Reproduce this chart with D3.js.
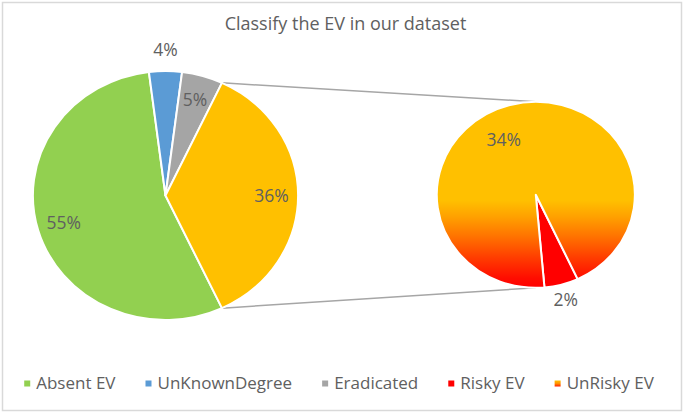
<!DOCTYPE html>
<html>
<head>
<meta charset="utf-8">
<script src="https://cdn.jsdelivr.net/npm/d3@7/dist/d3.min.js"></script>
<style>
  html, body { margin: 0; padding: 0; background: #fff; }
  svg { display: block; font-family: "Open Sans", Lato, sans-serif; }
</style>
</head>
<body>
<svg id="chart"></svg>
<script>
// chart values (percent of dataset)
var categories = ['Absent EV', 'UnKnownDegree', 'Eradicated', 'Risky EV', 'UnRisky EV'];
var values = [55, 4, 5, 2, 34];
// the last two categories are split out into the second pie
var splitNames = ['Risky EV', 'UnRisky EV'];
var otherName = 'Other';
var chartTitle = 'Classify the EV in our dataset';

var width = 686,
    height = 414;

var colors = {
  'Absent EV': '#92D050',
  'UnKnownDegree': '#5B9BD5',
  'Eradicated': '#A5A5A5',
  'Risky EV': '#FF0000',
  'UnRisky EV': 'url(#unriskyGrad)',
  'Other': '#FFC000'
};

// main pie and the second plot
var main = { cx: 165.5, cy: 195.5, r: 124.5 },
    second = { cx: 535.8, cy: 194.8, r: 93 },
    // the picture is a little wider than tall
    sx = 1.065,
    textColor = '#606060';

var svg = d3.select('#chart')
  .attr('width', width)
  .attr('height', height);

var defs = svg.append('defs');
// gradient in the second pie's group space
var grad = defs.append('linearGradient')
  .attr('id', 'unriskyGrad')
  .attr('gradientUnits', 'userSpaceOnUse')
  .attr('x1', 0).attr('x2', 0)
  .attr('y1', -second.r)
  .attr('y2', second.r);
[[0, '#FFC000'], [0.53, '#FFC000'], [0.62, '#FFA000'], [0.73, '#FF7000'],
 [0.84, '#FF3C00'], [0.95, '#FF0C00'], [1, '#FF0000']].forEach(function (s) {
  grad.append('stop').attr('offset', s[0]).attr('stop-color', s[1]);
});

// legend swatch gradient in object space
var gradSmall = defs.append('linearGradient')
  .attr('id', 'unriskySwatch')
  .attr('x1', 0).attr('x2', 0).attr('y1', 0).attr('y2', 1);
[[0, '#FFC000'], [0.5, '#FF9000'], [1, '#FF2000']].forEach(function (s) {
  gradSmall.append('stop').attr('offset', s[0]).attr('stop-color', s[1]);
});

// chart border
svg.append('rect')
  .attr('x', 2.5).attr('y', 2.5)
  .attr('width', 679).attr('height', 408)
  .attr('fill', '#fff')
  .attr('stroke', '#D9D9D9')
  .attr('stroke-width', 1.5);

svg.append('text')
  .attr('x', 345.5)
  .attr('y', 30)
  .attr('text-anchor', 'middle')
  .attr('fill', textColor)
  .style('font-size', '18px')
  .text(chartTitle);

/**
 * Build data for both pies
 */
var mainData = [],
    secondData = [],
    otherTotal = 0;

categories.forEach(function (c, i) {
  if (splitNames.indexOf(c) >= 0) {
    secondData.push({ name: c, value: values[i] });
    otherTotal += values[i];
  } else {
    mainData.push({ name: c, value: values[i] });
  }
});
mainData.push({ name: otherName, value: otherTotal });

var total = d3.sum(values);
var otherFrac = otherTotal / total;
// the split slice is centred at 3 o'clock
var mainStart = Math.PI / 2 + otherFrac * Math.PI;
var secondStart = 155 * Math.PI / 180;

var mainPie = d3.pie().sort(null).value(function (d) { return d.value; })
  .startAngle(mainStart).endAngle(mainStart + 2 * Math.PI);
var secondPie = d3.pie().sort(null).value(function (d) { return d.value; })
  .startAngle(secondStart).endAngle(secondStart + 2 * Math.PI);

var mainArcs = mainPie(mainData),
    secondArcs = secondPie(secondData);

function pointAt(p, angle, rr) {
  return [p.cx + sx * rr * Math.sin(angle), p.cy - rr * Math.cos(angle)];
}

// connector lines
var otherArc = mainArcs.find(function (a) { return a.data.name === otherName; });
var lines = [
  [pointAt(main, otherArc.startAngle, main.r), [second.cx, second.cy - second.r]],
  [pointAt(main, otherArc.endAngle, main.r), [second.cx, second.cy + second.r]]
];
svg.selectAll('line.connector')
  .data(lines)
  .enter().append('line')
    .attr('class', 'connector')
    .attr('x1', function (d) { return d[0][0]; })
    .attr('y1', function (d) { return d[0][1]; })
    .attr('x2', function (d) { return d[1][0]; })
    .attr('y2', function (d) { return d[1][1]; })
    .attr('stroke', '#A6A6A6')
    .attr('stroke-width', 1.5);

function drawPie(p, arcs) {
  var g = svg.append('g')
    .attr('transform', 'translate(' + p.cx + ',' + p.cy + ') scale(' + sx + ',1)');
  var arc = d3.arc().innerRadius(0).outerRadius(p.r);
  g.selectAll('path')
    .data(arcs)
    .enter().append('path')
      .attr('d', arc)
      .attr('fill', function (d) { return colors[d.data.name]; })
      .attr('stroke', '#fff')
      .attr('stroke-width', 2)
      .attr('stroke-linejoin', 'round')
      .attr('vector-effect', 'non-scaling-stroke');
}

drawPie(main, mainArcs);
drawPie(second, secondArcs);

// data labels: small slices go outside, larger ones inside
var labelTweak = {
  'UnRisky EV': { r: 0.67, shift: -14 }
};

function drawLabels(p, arcs) {
  svg.append('g').selectAll('text')
    .data(arcs)
    .enter().append('text')
      .attr('text-anchor', 'middle')
      .attr('dy', '0.35em')
      .attr('fill', textColor)
      .style('font-size', '17.5px')
      .attr('transform', function (d) {
        var mid = (d.startAngle + d.endAngle) / 2,
            frac = d.data.value < 5 ? 1.17 : 0.8,
            t = labelTweak[d.data.name];
        if (t) { frac = t.r; mid += t.shift * Math.PI / 180; }
        var pt = pointAt(p, mid, p.r * frac);
        return 'translate(' + pt[0] + ',' + pt[1] + ')';
      })
      .text(function (d) { return Math.round(d.data.value / total * 100) + '%'; });
}

drawLabels(main, mainArcs);
drawLabels(second, secondArcs);

/**
 * Legend along the bottom
 */
var legend = svg.append('g'),
    gap = 30,
    swatch = 6,
    pad = 6,
    x = 0;

var items = categories.map(function (c) {
  var g = legend.append('g');
  g.append('rect')
    .attr('width', swatch).attr('height', swatch)
    .attr('y', -swatch / 2)
    .attr('fill', c === 'UnRisky EV' ? 'url(#unriskySwatch)' : colors[c]);
  var t = g.append('text')
    .attr('x', swatch + pad)
    .attr('dy', '0.35em')
    .attr('fill', textColor)
    .style('font-size', '17px')
    .text(c);
  return { g: g, w: swatch + pad + t.node().getComputedTextLength() };
});

var legendW = d3.sum(items, function (d) { return d.w; }) + gap * (items.length - 1);
x = 339 - legendW / 2;
items.forEach(function (it) {
  it.g.attr('transform', 'translate(' + x + ',383.5)');
  x += it.w + gap;
});
</script>
</body>
</html>
